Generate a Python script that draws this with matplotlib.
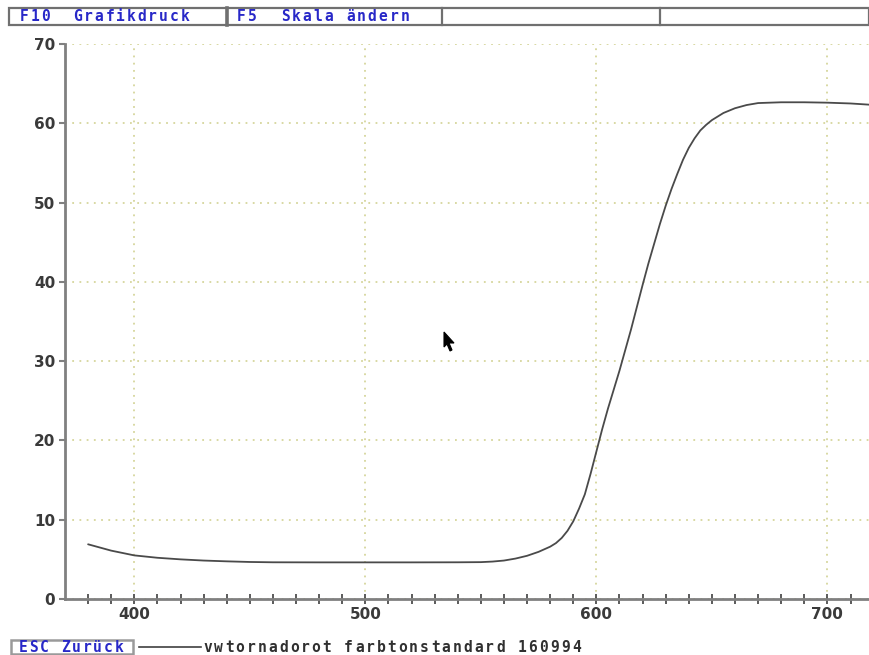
import numpy as np
import matplotlib.pyplot as plt
from matplotlib.patches import Rectangle, Polygon
from matplotlib.lines import Line2D

# Remissionskurve (Wellenlaenge in nm, Remission in %)
wellenlaenge = [380, 390, 400, 410, 420, 430, 440, 450, 460, 480, 500, 520, 540, 550,
                555, 560, 565, 570, 575, 580, 582.5, 585, 587.5, 590, 592.5, 595, 597.5,
                600, 602.5, 605, 607.5, 610, 615, 620, 622.5, 625, 627.5, 630, 632.5,
                635, 637.5, 640, 642.5, 645, 647.5, 650, 655, 660, 665, 670, 680, 690,
                700, 710, 718]
remission = [6.9, 6.1, 5.5, 5.2, 5.0, 4.85, 4.75, 4.67, 4.63, 4.62, 4.62, 4.62, 4.63, 4.65,
             4.72, 4.85, 5.1, 5.45, 5.95, 6.6, 7.05, 7.7, 8.6, 9.8, 11.4, 13.2, 15.8,
             18.6, 21.4, 24.0, 26.4, 28.8, 34.0, 39.6, 42.3, 44.8, 47.3, 49.6, 51.7,
             53.6, 55.4, 56.9, 58.1, 59.1, 59.8, 60.4, 61.3, 61.9, 62.3, 62.55, 62.65,
             62.65, 62.6, 62.5, 62.35]

x_major = [400, 500, 600, 700]
y_major = [0, 10, 20, 30, 40, 50, 60, 70]

menu_felder = ["F10  Grafikdruck", "F5  Skala ändern", "", ""]
zurueck_text = "ESC Zurück"
legende_text = "vwtornadorot farbtonstandard 160994"

W, H = 869, 655
BLAU = "#2828c8"
GRAU = "#808080"
GRID = "#d6d69c"

fig = plt.figure(figsize=(W / 100, H / 100), dpi=100)
fig.patch.set_facecolor("white")


def fx(px):
    return px / W


def fy(py):
    return 1 - py / H


def zellen_text(x0, y0, text, color, cell=10.8, size=10.5):
    # Festbreiten-Schrift wie am Bildschirm: jedes Zeichen in eigener Zelle
    for i, ch in enumerate(text):
        fig.text(fx(x0 + i * cell + cell / 2), fy(y0), ch, ha="center", va="center",
                 color=color, fontsize=size, fontweight="bold",
                 family="DejaVu Sans Mono")


# Diagramm
ax = fig.add_axes([fx(65), fy(599), 1 - fx(65), fy(44) - fy(599)])
ax.plot(wellenlaenge, remission, color="#4a4a4a", lw=1.3, solid_capstyle="round",
        solid_joinstyle="round")
ax.set_xlim(370, 718)
ax.set_ylim(0, 70)
ax.set_xticks(x_major)
ax.set_xticks(np.arange(380, 720, 10), minor=True)
ax.set_yticks(y_major)
ax.grid(True, which="major", color=GRID, linestyle=(0, (1, 3)), lw=1.3)
ax.set_axisbelow(True)
for s in ["top", "right"]:
    ax.spines[s].set_visible(False)
for s in ["left", "bottom"]:
    ax.spines[s].set_color(GRAU)
    ax.spines[s].set_linewidth(2)
ax.tick_params(axis="x", which="both", direction="inout", length=7, width=1.2,
               color="#404040", labelsize=11, labelcolor="#3a3a3a", pad=2)
ax.tick_params(axis="y", which="major", direction="out", length=4, width=1.5,
               color=GRAU, labelsize=11, labelcolor="#3a3a3a", pad=3)
for lab in ax.get_xticklabels() + ax.get_yticklabels():
    lab.set_fontweight("bold")

# Menueleiste oben
fig.add_artist(Rectangle((fx(9), fy(25)), fx(869 - 9), fy(8) - fy(25),
                         transform=fig.transFigure, fill=False, ec="#707070", lw=1.6))
for xp, lw in [(227, 2.6), (442, 1.6), (660, 1.6)]:
    fig.add_artist(Line2D([fx(xp), fx(xp)], [fy(8), fy(25)], transform=fig.transFigure,
                          color="#707070", lw=lw))
zellen_text(19, 16.5, menu_felder[0], BLAU, cell=10.7)
zellen_text(236, 16.5, menu_felder[1], BLAU, cell=10.9)

# Schaltflaeche und Legende unten
fig.add_artist(Rectangle((fx(11), fy(654)), fx(133 - 11), fy(640) - fy(654),
                         transform=fig.transFigure, fill=False, ec="#9a9a9a", lw=1.8))
zellen_text(18, 647, zurueck_text, BLAU, cell=10.6)
fig.add_artist(Line2D([fx(139), fx(201)], [fy(647), fy(647)], transform=fig.transFigure,
                      color="#404040", lw=1.2))
zellen_text(202, 647, legende_text, "#303030", cell=10.85)

# Mauszeiger
zeiger = [(444, 332), (444, 347), (447, 344), (450, 351), (452, 350), (449, 343), (454, 343)]
fig.add_artist(Polygon([(fx(a), fy(b)) for a, b in zeiger], closed=True,
                       transform=fig.transFigure, fc="black", ec="black", lw=0.8))

fig.savefig("out.png", dpi=100)
